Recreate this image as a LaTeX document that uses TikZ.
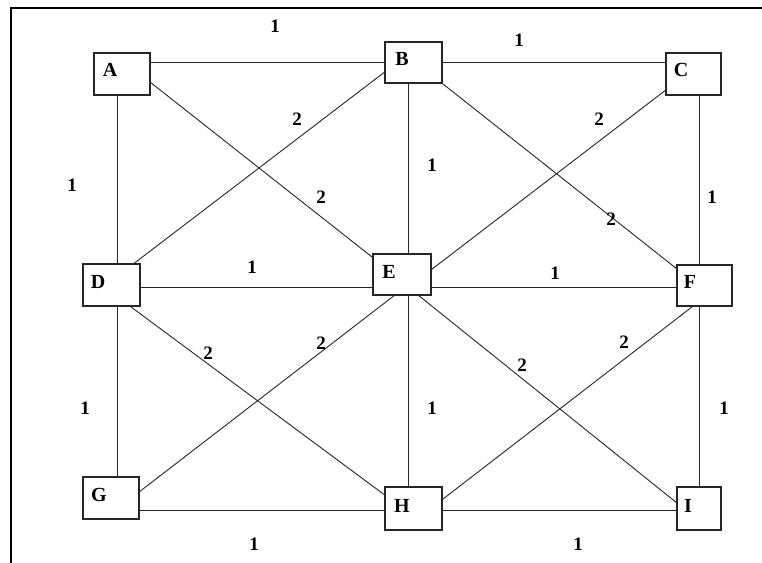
\documentclass[tikz,border=0pt]{standalone}
\usepackage{fontspec}
\setmainfont{Liberation Serif}
\usetikzlibrary{calc}
\begin{document}
\begin{tikzpicture}[x=1pt,y=-1pt,
  box/.style={draw=black!85,line width=1.2pt,rectangle,inner sep=0pt,outer sep=0pt,fill=white},
  lbl/.style={inner sep=0pt,font=\fontsize{20}{20}\selectfont\bfseries},
  wt/.style={inner sep=0pt,font=\fontsize{19}{19}\selectfont\bfseries},
  edge/.style={draw=black!85,line width=0.9pt}]
\useasboundingbox (0,0) rectangle (762,562);
\fill[white] (0,0) rectangle (762,562);
\draw[line width=2pt] (11,563) -- (11,8) -- (763,8);
% boxes
\node[box,minimum width=56pt,minimum height=42pt] (A) at (122,74) {};
\node[box,minimum width=57pt,minimum height=41pt] (B) at (413.5,62.5) {};
\node[box,minimum width=55pt,minimum height=42pt] (C) at (693.5,74) {};
\node[box,minimum width=57pt,minimum height=42pt] (D) at (111.5,285) {};
\node[box,minimum width=58pt,minimum height=41pt] (E) at (402,274.5) {};
\node[box,minimum width=55pt,minimum height=41pt] (F) at (704.5,285.5) {};
\node[box,minimum width=56pt,minimum height=42pt] (G) at (111,498) {};
\node[box,minimum width=57pt,minimum height=43pt] (H) at (413.5,508.5) {};
\node[box,minimum width=44pt,minimum height=43pt] (I) at (699,508.5) {};
% letters
\node[lbl] (tA) at (110,70) {A};
\node[lbl] (tB) at (402,59) {B};
\node[lbl] (tC) at (681,70) {C};
\node[lbl] (tD) at (98,282) {D};
\node[lbl] (tE) at (389,272) {E};
\node[lbl] (tF) at (690,282) {F};
\node[lbl] (tG) at (99,495) {G};
\node[lbl] (tH) at (402,506) {H};
\node[lbl] (tI) at (688,506) {I};
% horizontal / vertical edges
\draw[edge] (B.west) -- (B.west -| A.east);
\draw[edge] (B.east) -- (B.east -| C.west);
\draw[edge] ([xshift=-5pt]A.south) -- ([xshift=-5pt]A.south |- D.north);
\draw[edge] ([xshift=5.5pt]D.south) -- ([xshift=5.5pt]D.south |- G.north);
\draw[edge] ([xshift=5.5pt]C.south) -- ([xshift=5.5pt]C.south |- F.north);
\draw[edge] (I.north) -- (I.north |- F.south);
\draw[edge] ([xshift=-5.5pt]B.south) -- ([xshift=-5.5pt]B.south |- E.north);
\draw[edge] ([xshift=6pt]E.south) -- ([xshift=6pt]E.south |- H.north);
\draw[edge] ([yshift=-2.5pt]D.east) -- ([yshift=-2.5pt]D.east -| E.west);
\draw[edge] ([yshift=-2pt]F.west) -- ([yshift=-2pt]F.west -| E.east);
\draw[edge] ([yshift=-1.5pt]H.west) -- ([yshift=-1.5pt]H.west -| G.east);
\draw[edge] ([yshift=-1.5pt]H.east) -- ([yshift=-1.5pt]H.east -| I.west);
% diagonal edges
\draw[edge] (A.-16) -- (E.150);
\draw[edge] (D.44) -- (B.198);
\draw[edge] (B.-36) -- (F.149);
\draw[edge] (C.210) -- (E.9);
\draw[edge] (D.-49) -- (H.155);
\draw[edge] (G.12) -- (E.251);
\draw[edge] (E.-52) -- (I.166);
\draw[edge] (H.17) -- (F.241);
% weights
\node[wt] (wAB) at (275,26) {1};
\node[wt] (wBC) at (519,40) {1};
\node[wt] (wAD) at (72,185) {1};
\node[wt] (wDB) at (297,119) {2};
\node[wt] (wAE) at (321,197) {2};
\node[wt] (wBE) at (432,165) {1};
\node[wt] (wCE) at (599,119) {2};
\node[wt] (wBF) at (611,219) {2};
\node[wt] (wCF) at (712,197) {1};
\node[wt] (wDE) at (252,267) {1};
\node[wt] (wEF) at (555,273) {1};
\node[wt] (wDH) at (208,353) {2};
\node[wt] (wGE) at (321,343) {2};
\node[wt] (wEI) at (522,365) {2};
\node[wt] (wEH) at (432,408) {1};
\node[wt] (wHF) at (624,342) {2};
\node[wt] (wDG) at (85,408) {1};
\node[wt] (wFI) at (724,408) {1};
\node[wt] (wGH) at (254,544) {1};
\node[wt] (wHI) at (578,544) {1};
\end{tikzpicture}
\end{document}
